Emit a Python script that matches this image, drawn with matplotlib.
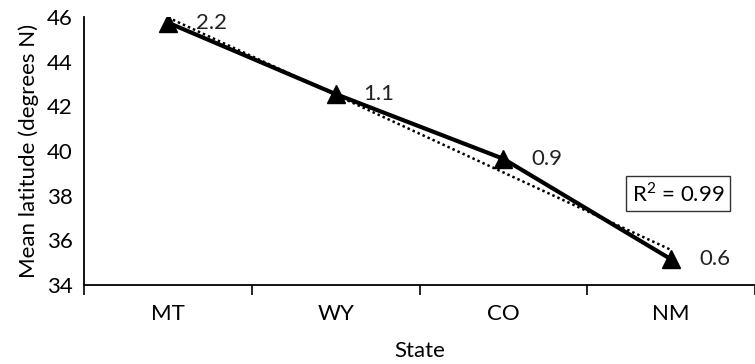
import matplotlib
matplotlib.use("Agg")
import matplotlib.pyplot as plt
import numpy as np

# mean latitude of each state, with the value labels shown beside the points
states = ["MT", "WY", "CO", "NM"]
latitude = [45.75, 42.55, 39.65, 35.15]
labels = ["2.2", "1.1", "0.9", "0.6"]
r2_text = "R$^2$ = 0.99"

plt.rcParams["font.family"] = ["Lato", "DejaVu Sans"]
plt.rcParams["mathtext.fontset"] = "custom"
plt.rcParams["mathtext.rm"] = "Lato"

fs = 16

fig = plt.figure(figsize=(7.55, 3.64), dpi=100)
ax = fig.add_axes([84 / 755, 79 / 364, 671 / 755, 268 / 364])

x = np.arange(len(states))
ax.plot(x, latitude, color="black", lw=3, marker="^", ms=13, zorder=3)

# linear trendline (dotted), as Excel draws it
slope, icept = np.polyfit(x, latitude, 1)
ax.plot(x, slope * x + icept, color="black", lw=1.8, ls=(0, (1, 1.2)), zorder=2)

for xi, yi, lab in zip(x, latitude, labels):
    ax.annotate(lab, (xi, yi), xytext=(20, 0), textcoords="offset points",
                va="center", ha="left", fontsize=fs, color="#222222")

ax.text(3.04, 38.1, r2_text, fontsize=fs, ha="center", va="center",
        bbox=dict(boxstyle="square,pad=0.25", fc="white", ec="#333333", lw=1))

ax.set_xlim(-0.5, 3.5)
ax.set_ylim(34, 46)
ax.set_yticks(range(34, 47, 2))
ax.set_xticks(np.arange(-0.5, 3.6, 1))
ax.set_xticklabels([])
ax.set_xticks(x, minor=True)
ax.set_xticklabels(states, minor=True)
ax.tick_params(axis="x", which="major", direction="out", length=7, width=1.2)
ax.tick_params(axis="x", which="minor", length=0, pad=14, labelsize=fs)
ax.tick_params(axis="y", length=0, pad=8, labelsize=fs)

for side in ["top", "right"]:
    ax.spines[side].set_visible(False)
for side in ["left", "bottom"]:
    ax.spines[side].set_linewidth(1.3)

ax.set_ylabel("Mean latitude (degrees N)", fontsize=fs, labelpad=6)
ax.set_xlabel("State", fontsize=fs, labelpad=12)

fig.savefig("out.png", dpi=100)
